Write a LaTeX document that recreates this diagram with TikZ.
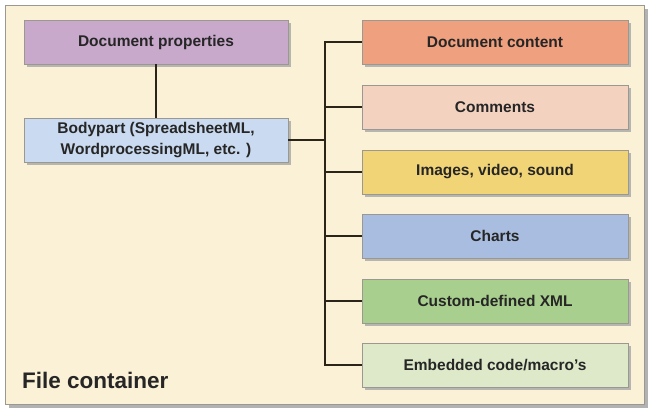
\documentclass[tikz,border=0pt]{standalone}
\usepackage{fontspec}
\setmainfont{Liberation Sans}
\usetikzlibrary{shadows}
\definecolor{cream}{HTML}{FBF1D6}
\definecolor{bordergray}{HTML}{9A9890}
\definecolor{linedark}{HTML}{2B2418}
\definecolor{cprop}{HTML}{C8A8CB}
\definecolor{cbody}{HTML}{CADAF0}
\definecolor{ccontent}{HTML}{EFA07F}
\definecolor{ccomm}{HTML}{F3D2BF}
\definecolor{cimg}{HTML}{F1D476}
\definecolor{cchart}{HTML}{A8BDE0}
\definecolor{cxml}{HTML}{A9CF8E}
\definecolor{cmacro}{HTML}{DDE9C9}
\tikzset{
  x=1pt, y=-1pt,
  boxstyle/.style={draw=bordergray, line width=0.8pt, minimum width=264pt, minimum height=44pt,
    font=\bfseries\fontsize{15.5}{21}\selectfont, text=black!85, align=center,
    drop shadow={shadow xshift=3pt, shadow yshift=-3pt, fill=black!35, opacity=0.8}},
  conn/.style={draw=linedark, line width=2.4pt}
}
\begin{document}
\begin{tikzpicture}
\useasboundingbox (0,0) rectangle (651,410);
\fill[black!30] (9,9) rectangle (648,408);
\draw[draw=bordergray, fill=cream, line width=1pt] (5,5) rectangle (644,404);
\node[boxstyle, fill=cprop] (prop) at (156,42) {Document properties};
\node[boxstyle, fill=cbody] (body) at (156,140) {Bodypart (SpreadsheetML,\\WordprocessingML, etc. )};
\node[boxstyle, minimum width=266pt, fill=ccontent] (content) at (495,42) {Document content};
\node[boxstyle, minimum width=266pt, fill=ccomm] (comm) at (495,107) {Comments};
\node[boxstyle, minimum width=266pt, fill=cimg] (img) at (495,172) {Images, video, sound};
\node[boxstyle, minimum width=266pt, fill=cchart] (chart) at (495,236) {Charts};
\node[boxstyle, minimum width=266pt, fill=cxml] (xml) at (495,301) {Custom-defined XML};
\node[boxstyle, minimum width=266pt, fill=cmacro] (macro) at (495,365) {Embedded code/macro's};
\node[anchor=base west, font=\bfseries\fontsize{22.5}{26}\selectfont, text=black!85, inner sep=0pt] (fc) at (22,388) {File container};
\coordinate (bustop) at (325,42);
\coordinate (busbot) at (325,365);
\coordinate (busmid) at (325,140);
\draw[conn] (prop.south) -- (body.north);
\draw[conn] (body.east) -- (busmid);
\draw[conn] (bustop -| content.west) -- (bustop) -- (busbot) -- (busbot -| macro.west);
\foreach \n in {comm,img,chart,xml} {
  \draw[conn] (\n.west) -- (\n.west -| bustop);
}
\end{tikzpicture}
\end{document}
